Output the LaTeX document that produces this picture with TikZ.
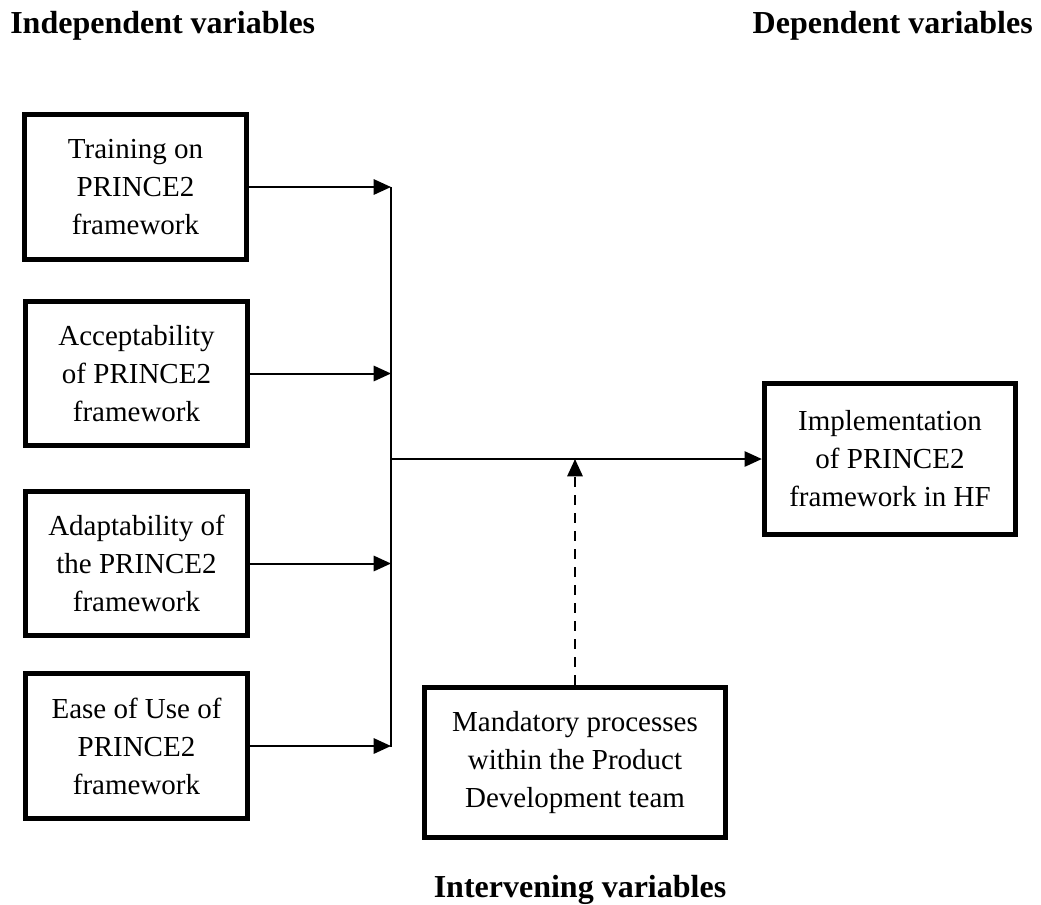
\documentclass[tikz,border=0pt]{standalone}
\usepackage{fontspec}
\setmainfont{Liberation Serif}
\usetikzlibrary{arrows.meta}
\begin{document}
\begin{tikzpicture}[x=0.75pt,y=-0.75pt,
  box/.style={draw=black,line width=4pt,align=center,inner sep=0pt,
    font=\fontsize{21.75pt}{28.5pt}\selectfont},
  head/.style={font=\fontsize{24pt}{28pt}\selectfont\bfseries,inner sep=0pt},
  arr/.style={line width=1.5pt,-{Triangle[length=13pt,width=11.5pt]}},
  ln/.style={line width=1.5pt}]
\useasboundingbox (0,0) rectangle (1041,904);
% headers
\node[head,anchor=base west] (hind) at (10,33) {Independent variables};
\node[head,anchor=base east] (hdep) at (1033,33) {Dependent variables};
\node[head,anchor=base] (hint) at (580,897) {Intervening variables};
% boxes
\node[box,minimum width=166.5pt,minimum height=108.75pt] (b1) at (135.5,187) {Training on\\PRINCE2\\framework};
\node[box,minimum width=166.5pt,minimum height=108pt] (b2) at (136.5,373.5) {Acceptability\\of PRINCE2\\framework};
\node[box,minimum width=166.5pt,minimum height=108pt] (b3) at (136.5,563.5) {Adaptability of\\the PRINCE2\\framework};
\node[box,minimum width=166.5pt,minimum height=108.75pt] (b4) at (136.5,746) {Ease of Use of\\PRINCE2\\framework};
\node[box,minimum width=188.25pt,minimum height=113.25pt] (imp) at (890,459) {Implementation\\of PRINCE2\\framework in HF};
\node[box,minimum width=225.75pt,minimum height=112.5pt] (mand) at (575,762.5) {Mandatory processes\\within the Product\\Development team};
% junction coordinates
\coordinate (jtop) at (391,187);
\coordinate (jbot) at (391,747);
\coordinate (jmid) at (391,459);
\coordinate (jdash) at (575,459);
% connectors
\draw[ln] (jtop) -- (jbot);
\draw[arr] (b1.east) -- (b1.east -| jtop);
\draw[arr] (b2.east) -- (b2.east -| jtop);
\draw[arr] (b3.east) -- (b3.east -| jtop);
\draw[arr] (b4.east) -- (b4.east -| jtop);
\draw[arr] (jmid) -- (imp.west);
\draw[arr,dash pattern=on 7.5pt off 6pt] (mand.north) -- (jdash);
\end{tikzpicture}
\end{document}
